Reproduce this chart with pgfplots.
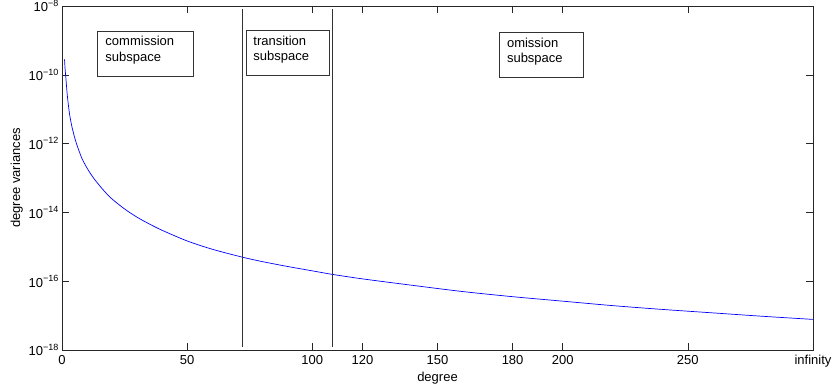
\documentclass[border=0pt]{standalone}
\usepackage{fontspec}
\setmainfont{Liberation Sans}
\usepackage{pgfplots}
\pgfplotsset{compat=1.18}

\newcommand{\tenpow}[1]{10\raisebox{5.5pt}{\fontsize{9}{9}\selectfont −#1}}

\begin{document}
\begin{tikzpicture}
\begin{axis}[
  scale only axis,
  width=751pt, height=344pt,
  xmin=0, xmax=300,
  ymode=log, ymin=1e-18, ymax=1e-8,
  axis line style={line width=0.8pt, black!85},
  tick align=inside,
  tick pos=both,
  major tick length=7pt,
  tick style={black!85, line width=0.6pt},
  xtick={0,50,100,120,150,180,200,250,300},
  xticklabels={0,50,100,120,150,180,200,250,infinity},
  ytick={1e-18,1e-16,1e-14,1e-12,1e-10,1e-8},
  yticklabels={\tenpow{18},\tenpow{16},\tenpow{14},\tenpow{12},\tenpow{10},\tenpow{8}},
  minor ytick={},
  log basis y=10,
  ticklabel style={font=\fontsize{13}{15}\selectfont},
  xticklabel style={yshift=-2pt},
  xlabel={degree},
  ylabel={degree variances},
  label style={font=\fontsize{13}{15}\selectfont},
  xlabel style={yshift=2pt},
  ylabel style={yshift=-1pt},
  clip=false,
]
% degree variance spectrum
\addplot[blue, line width=0.7pt, smooth] coordinates {
  (1,2.82e-10) (1.25,1.45e-10) (1.5,8.91e-11) (2,3.16e-11) (2.5,1.41e-11)
  (3,7.41e-12) (3.5,4.57e-12) (4,3.02e-12) (4.5,2.14e-12) (5,1.55e-12)
  (6,8.91e-13) (7,5.62e-13) (8,3.63e-13) (9,2.63e-13) (10,1.95e-13)
  (11,1.48e-13) (12,1.15e-13) (13,9.12e-14) (15,6.03e-14) (17,4.07e-14)
  (20,2.45e-14) (25,1.26e-14) (30,7.24e-15) (35,4.57e-15) (40,3.02e-15)
  (50,1.48e-15) (60,8.51e-16) (72,5.01e-16) (80,3.72e-16) (90,2.69e-16)
  (100,2.00e-16) (108,1.58e-16) (120,1.17e-16) (140,7.59e-17) (160,5.01e-17)
  (180,3.55e-17) (200,2.63e-17) (220,1.95e-17) (240,1.51e-17) (260,1.20e-17)
  (280,9.55e-18) (300,7.76e-18)
};
% subspace boundaries
\addplot[black!80, line width=0.8pt] coordinates {(72,1.25e-18) (72,8e-9)};
\addplot[black!80, line width=0.8pt] coordinates {(108,1.25e-18) (108,8e-9)};

% subspace annotations
\draw[black!80, line width=0.7pt] (axis cs:14.1,1.875e-9) rectangle (axis cs:52.5,9.23e-11);
\node[anchor=north west, align=left, inner sep=0pt,
      font=\fontsize{13}{15.5}\selectfont] at ([xshift=8pt,yshift=-5pt]axis cs:14.1,1.875e-9)
      {commission\\subspace};
\draw[black!80, line width=0.7pt] (axis cs:73.6,1.905e-9) rectangle (axis cs:106.9,9.33e-11);
\node[anchor=north west, align=left, inner sep=0pt,
      font=\fontsize{13}{15.5}\selectfont] at ([xshift=7pt,yshift=-5pt]axis cs:73.6,1.905e-9)
      {transition\\subspace};
\draw[black!80, line width=0.7pt] (axis cs:174.9,1.66e-9) rectangle (axis cs:208.3,8.32e-11);
\node[anchor=north west, align=left, inner sep=0pt,
      font=\fontsize{13}{15.5}\selectfont] at ([xshift=7pt,yshift=-5pt]axis cs:174.9,1.66e-9)
      {omission\\subspace};

\coordinate (bl) at (rel axis cs:0,0);
\coordinate (tr) at (rel axis cs:1,1);
\end{axis}
\pgfresetboundingbox
\useasboundingbox ([xshift=-62pt,yshift=-41pt]bl) rectangle ([xshift=20pt,yshift=6pt]tr);
\end{tikzpicture}
\end{document}
